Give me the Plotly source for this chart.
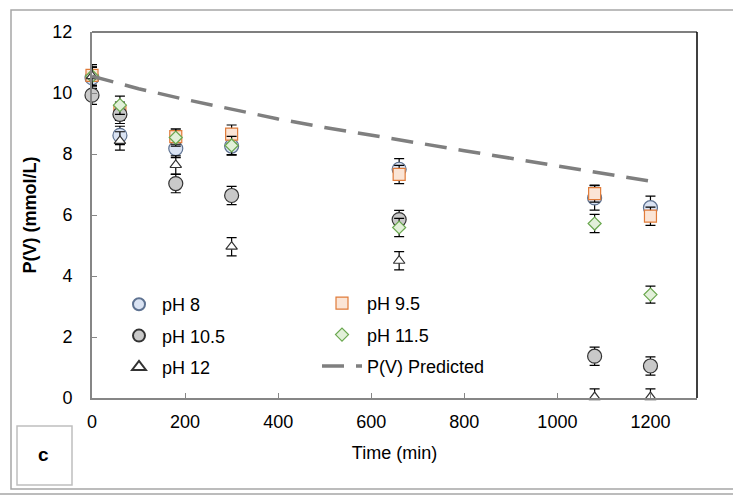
import plotly.graph_objects as go

# ---- data ----
time_min = [0, 60, 180, 300, 660, 1080, 1200]
ph8 = [10.50, 8.61, 8.18, 8.26, 7.50, 6.56, 6.24]
ph8_err = [0.35, 0.30, 0.30, 0.30, 0.35, 0.40, 0.38]
ph95 = [10.58, 9.40, 8.57, 8.65, 7.33, 6.70, 5.96]
ph95_err = [0.35, 0.30, 0.25, 0.30, 0.30, 0.28, 0.30]
ph105 = [9.93, 9.30, 7.03, 6.64, 5.85, 1.37, 1.05]
ph105_err = [0.30, 0.30, 0.30, 0.30, 0.30, 0.30, 0.30]
ph115 = [10.55, 9.60, 8.54, 8.28, 5.59, 5.72, 3.39]
ph115_err = [0.30, 0.30, 0.28, 0.30, 0.30, 0.30, 0.28]
ph12 = [10.55, 8.43, 7.64, 4.96, 4.50, 0.03, 0.03]
ph12_err = [0.30, 0.30, 0.30, 0.30, 0.30, 0.27, 0.27]

pred_time = [0, 100, 200, 300, 400, 500, 600, 700, 800, 900, 1000, 1100, 1200]
pred_val = [10.55, 10.14, 9.79, 9.46, 9.15, 8.87, 8.61, 8.36, 8.11, 7.86, 7.61, 7.36, 7.11]

x_ticks = [0, 200, 400, 600, 800, 1000, 1200]
y_ticks = [0, 2, 4, 6, 8, 10, 12]

FONT = "Liberation Sans, Arial, sans-serif"
FS = 18

# plot area in pixels
L, R, T, B = 92, 697, 32, 398
W, H = 733, 495


def px(x):
    return (x - L) / (R - L)


def py(y):
    return (B - y) / (B - T)


fig = go.Figure()

series = [
    ("pH 8", ph8, ph8_err, "circle", 14, "#DAE3F3", "#5E7291", "legend"),
    ("pH 9.5", ph95, ph95_err, "square", 12, "#FBE5D6", "#E07B39", "legend2"),
    ("pH 10.5", ph105, ph105_err, "circle", 14, "#C9C9C9", "#333333", "legend"),
    ("pH 11.5", ph115, ph115_err, "diamond", 10, "#E2F0D9", "#6AA84F", "legend2"),
    ("pH 12", ph12, ph12_err, "triangle-up", 10, "#FFFFFF", "#333333", "legend"),
]

for name, vals, err, sym, size, fill, edge, lg in series:
    fig.add_trace(go.Scatter(
        x=time_min, y=vals, mode="markers", name=name, legend=lg,
        legendgroup=name,
        marker=dict(symbol=sym, size=size, color=fill,
                    line=dict(color=edge, width=1.2)),
        error_y=dict(type="data", array=err, visible=True,
                     color="#000000", thickness=1.2, width=5),
        cliponaxis=False,
    ))

fig.add_trace(go.Scatter(
    x=pred_time, y=pred_val, mode="lines", name="P(V) Predicted",
    legend="legend2", legendgroup="pred",
    line=dict(color="#7F7F7F", width=3.5, dash="22px,12px"),
))

shapes = [
    # outer frame
    dict(type="rect", xref="paper", yref="paper",
         x0=px(11), x1=px(745), y0=py(489), y1=py(10),
         line=dict(color="#A6A6A6", width=1.5), layer="below"),
    dict(type="line", xref="paper", yref="paper",
         x0=px(0), x1=px(745), y0=py(494), y1=py(494),
         line=dict(color="#A6A6A6", width=1.5)),
    # panel label box
    dict(type="rect", xref="paper", yref="paper",
         x0=px(17), x1=px(72), y0=py(485), y1=py(426),
         line=dict(color="#BFBFBF", width=1.5)),
    # top and right border of plot area
    dict(type="line", xref="paper", yref="paper",
         x0=0, x1=1, y0=1, y1=1, line=dict(color="#000000", width=1.2)),
    dict(type="line", xref="paper", yref="paper",
         x0=1, x1=1, y0=0, y1=1, line=dict(color="#000000", width=1.5)),
]

fig.update_layout(
    width=W, height=H,
    margin=dict(l=L, r=W - R, t=T, b=H - B),
    paper_bgcolor="white", plot_bgcolor="white",
    font=dict(family=FONT, size=FS, color="#000000"),
    showlegend=True,
    shapes=shapes,
    annotations=[dict(text="<b>c</b>", xref="paper", yref="paper",
                      x=px(43), y=py(454), xanchor="center", yanchor="middle",
                      showarrow=False,
                      font=dict(family=FONT, size=19, color="#000000"))],
    legend=dict(x=px(116), y=py(286), xanchor="left", yanchor="top",
                bgcolor="rgba(0,0,0,0)", font=dict(size=FS),
                tracegroupgap=5, itemsizing="constant", itemwidth=36),
    legend2=dict(x=px(317), y=py(285), xanchor="left", yanchor="top",
                 bgcolor="rgba(0,0,0,0)", font=dict(size=FS),
                 tracegroupgap=5, itemwidth=40),
)

fig.update_xaxes(
    range=[0, 1300], tickvals=x_ticks, ticktext=[str(v) for v in x_ticks],
    showgrid=False, zeroline=False, showline=True, linecolor="#868686",
    linewidth=2, ticks="inside", ticklen=5, tickcolor="#868686",
    tickfont=dict(size=FS), ticklabelstandoff=6,
    title=dict(text="Time (min)", font=dict(size=FS), standoff=16),
)
fig.update_yaxes(
    range=[0, 12], tickvals=y_ticks, ticktext=[str(v) for v in y_ticks],
    showgrid=False, zeroline=False, showline=True, linecolor="#868686",
    linewidth=2, ticks="inside", ticklen=5, tickcolor="#868686",
    tickfont=dict(size=FS), ticklabelstandoff=14,
    title=dict(text="<b>P(V) (mmol/L)</b>", font=dict(size=FS), standoff=11),
)

fig.write_html("out.html",
               config={"displayModeBar": False},
               post_script="document.body.style.margin='0';")
